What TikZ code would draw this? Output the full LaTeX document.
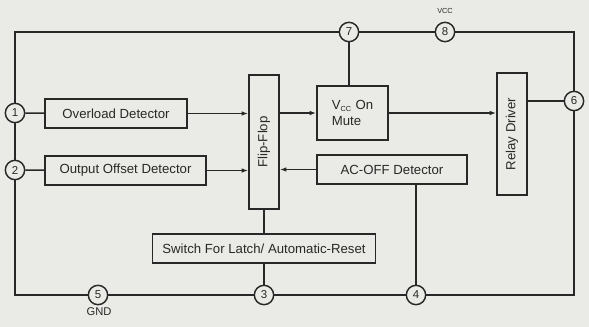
\documentclass[tikz,border=0pt]{standalone}
\usepackage{fontspec}
\usepackage{graphicx}
\setmainfont{Liberation Sans}
\usetikzlibrary{arrows.meta}
\definecolor{paper}{RGB}{234,234,230}
\definecolor{ink}{RGB}{40,40,40}
\begin{document}
\begin{tikzpicture}[x=0.75pt,y=-0.75pt,
  every node/.style={text=ink},
  box/.style={draw=ink, line width=1.1pt, fill=paper, inner sep=0pt, font=\fontsize{9.9}{11.5}\selectfont},
  pin/.style={draw=ink, line width=1.1pt, circle, fill=paper, minimum size=14.5pt, inner sep=0pt, font=\fontsize{8.6}{9}\selectfont},
  wire/.style={draw=ink, line width=1.1pt},
  arr/.style={wire, -{Latex[length=5pt,width=3.5pt]}}]
\fill[paper] (0,0) rectangle (589,327);
\useasboundingbox (0,0) rectangle (589,327);
% boxes
\node[box, minimum width=106.5pt, minimum height=21.75pt] (ol) at (116,113.5) {Overload Detector};
\node[box, minimum width=120.75pt, minimum height=21.75pt] (oo) at (125.5,170.5) {Output Offset Detector};
\node[box, minimum width=22.5pt, minimum height=100.5pt] (ff) at (264,142) {\rotatebox{90}{Flip-Flop}};
\node[box, minimum width=53.25pt, minimum height=40.5pt, align=left] (mute) at (352.5,113) {V\textsubscript{\fontsize{5.5}{5.5}\selectfont CC} On\\Mute};
\node[box, minimum width=22.5pt, minimum height=91.5pt] (relay) at (512,134) {\rotatebox{90}{Relay Driver}};
\node[box, minimum width=112.5pt, minimum height=21.75pt] (acoff) at (392,169.5) {AC-OFF Detector};
\node[box, minimum width=167.25pt, minimum height=21.75pt] (sw) at (264,248.5) {Switch For Latch/ Automatic-Reset};
% pins
\node[pin] (p1) at (15,113) {1};
\node[pin] (p2) at (15,170) {2};
\node[pin] (p3) at (264,295) {3};
\node[pin] (p4) at (416,295) {4};
\node[pin] (p5) at (98,295) {5};
\node[pin] (p6) at (574,101) {6};
\node[pin] (p7) at (349,32) {7};
\node[pin] (p8) at (445,32) {8};
\node[font=\fontsize{5.5}{6}\selectfont] (vcc) at (445,11) {VCC};
\node[font=\fontsize{8.4}{9}\selectfont] (gnd) at (99,312) {GND};
% corners
\coordinate (tl) at (15,32);
\coordinate (tr) at (574,32);
\coordinate (bl) at (15,295);
\coordinate (br) at (574,295);
% outer loop
\draw[wire] (p1) -- (tl) -- (p7);
\draw[wire] (p7) -- (p8);
\draw[wire] (p8) -- (tr) -- (p6);
\draw[wire] (p6) -- (br) -- (p4);
\draw[wire] (p4) -- (p3);
\draw[wire] (p3) -- (p5);
\draw[wire] (p5) -- (bl) -- (p2);
\draw[wire] (p2) -- (p1);
% connections
\draw[wire] (p1) -- (ol);
\draw[wire] (p2) -- (oo);
\draw[arr] (ol.east) -- (ol.east -| ff.west);
\draw[arr] (oo.east) -- (oo.east -| ff.west);
\draw[arr] (ff.east |- mute.west) -- (mute.west);
\draw[arr] (mute.east) -- (mute.east -| relay.west);
\draw[arr] (acoff.west) -- (acoff.west -| ff.east);
\draw[wire] (p7) -- (p7 |- mute.north);
\draw[wire] (relay.east |- p6) -- (p6);
\draw[wire] (ff.south) -- (sw.north);
\draw[wire] (sw.south) -- (p3);
\draw[wire] (acoff.south -| p4) -- (p4);
\end{tikzpicture}
\end{document}
